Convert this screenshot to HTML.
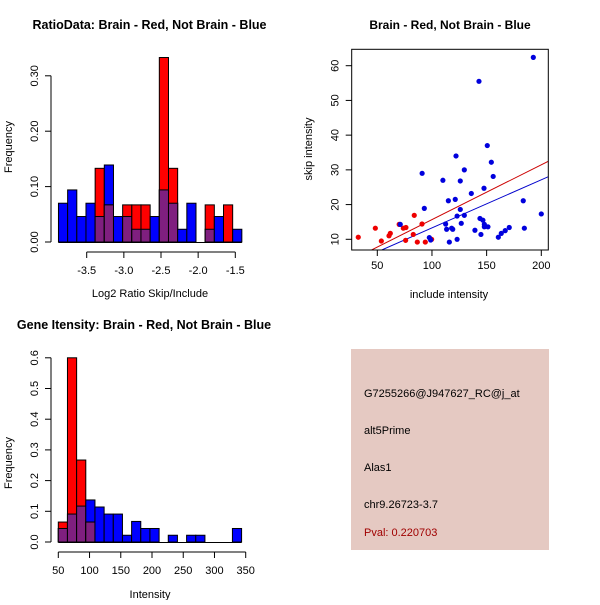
<!DOCTYPE html>
<html><head><meta charset="utf-8"><style>
body{margin:0;background:#fff}
svg text{font-family:"Liberation Sans",sans-serif;fill:#000}
</style></head><body>
<svg id="c" width="600" height="600" xmlns="http://www.w3.org/2000/svg">
<rect width="600" height="600" fill="#fff"/>
<g id="p1"></g>
<g id="p2"></g>
<g id="p3"></g>
<g>
<rect x="351" y="349" width="198" height="201" fill="#e5c9c2"/>
<text x="364" y="397" font-size="11">G7255266@J947627_RC@j_at</text>
<text x="364" y="434" font-size="11">alt5Prime</text>
<text x="364" y="471" font-size="11">Alas1</text>
<text x="364" y="508" font-size="11">chr9.26723-3.7</text>
<text x="364" y="536" font-size="11" style="fill:#a00000">Pval: 0.220703</text>
</g>
</svg>
<script>
// ---- Plot 1 data ----
const ratioBinStart = -3.88;
const ratioBinWidth = 0.1234;
const ratioBlue = [0.070,0.094,0.046,0.070,0.046,0.139,0.046,0.046,0.023,0.023,0.046,0.094,0.070,0.023,0.070,0,0.023,0.046,0,0.023];
const ratioRed  = [0,0,0,0,0.133,0.067,0,0.067,0.067,0.067,0,0.333,0.133,0,0,0,0.067,0,0.067,0];
const ratioXTicks = [-3.5,-3.0,-2.5,-2.0,-1.5];
const ratioXLabels = ["-3.5","-3.0","-2.5","-2.0","-1.5"];
const ratioYTicks = [0,0.1,0.2,0.3];
const ratioYLabels = ["0.00","0.10","0.20","0.30"];
// ---- Plot 2 data ----
const redInclude = [32.6,48.2,53.7,60.7,61.9,70,73.8,76.2,75.9,82.9,83.8,86.6,90.9,93.9,99.7];
const redSkip    = [10.6,13.2,9.5,11,11.7,14.3,13.2,13.4,9.7,11.4,16.9,9.2,14.4,9.2,10];
const blueInclude = [71,91,93,97.6,98.8,110,112.5,113.4,115,115.9,118,119,121.3,122,123,123,125.9,125.9,126.8,129.6,129.6,136,139.3,143,143.9,144.8,146.6,147.6,147.9,147.9,150.6,151.2,154.3,156,160.7,163.4,167,170.7,183.5,184.5,192.7,200];
const blueSkip    = [14.3,29,18.9,10.5,9.8,27,14.4,12.9,21.1,9.2,13.2,12.9,21.5,34,16.7,10,26.8,18.6,14.6,30,16.9,23.2,12.6,55.5,16,11.4,15.5,24.7,14.3,13.6,37,13.6,32.2,28.1,10.6,11.7,12.5,13.4,21.1,13.2,62.4,17.3];
const redFit = [-0.14,0.158];   // intercept, slope
const blueFit = [-0.56,0.1385];
const scatXTicks = [50,100,150,200];
const scatYTicks = [10,20,30,40,50,60];
// ---- Plot 3 data ----
const intBinStart = 50;
const intBinWidth = 14.67;
const intBlue = [0.044,0.091,0.117,0.137,0.114,0.091,0.091,0.022,0.067,0.044,0.044,0,0.022,0,0.022,0.022,0,0,0,0.044];
const intRed  = [0.065,0.6,0.267,0.065,0,0,0,0,0,0,0,0,0,0,0,0,0,0,0,0];
const intXTicks = [50,100,150,200,250,300,350];
const intYTicks = [0,0.1,0.2,0.3,0.4,0.5,0.6];
const intYLabels = ["0.0","0.1","0.2","0.3","0.4","0.5","0.6"];

const NS="http://www.w3.org/2000/svg";
function mk(g,tag,attrs,text){const e=document.createElementNS(NS,tag);for(const k in attrs)e.setAttribute(k,attrs[k]);if(text!==undefined)e.textContent=text;g.appendChild(e);return e;}

function hist(g,o){
  const xs=v=>o.x0+(v-o.v0)*o.kx, ys=v=>o.y0-v*o.ky;
  const n=o.blue.length;
  for(let i=0;i<n;i++){
    const l=xs(o.start+i*o.w), r=xs(o.start+(i+1)*o.w);
    const b=o.blue[i], rd=o.red[i], m=Math.min(b,rd);
    if(b>0){const e=mk(g,'rect',{x:l,y:ys(b),width:r-l,height:ys(0)-ys(b),fill:'#0000ff',stroke:'#000','stroke-width':1});
      
      }
    if(rd>0){const e=mk(g,'rect',{x:l,y:ys(rd),width:r-l,height:ys(0)-ys(rd),fill:'#ff0000',stroke:'#000','stroke-width':1});
      
      }
    if(m>0){const e=mk(g,'rect',{x:l,y:ys(m),width:r-l,height:ys(0)-ys(m),fill:'#7f1f7f',stroke:'#000','stroke-width':1});
      
      }
  }
  const xe=xs(o.start+n*o.w), xb=xs(o.start);
  mk(g,'line',{x1:xb,x2:xe,y1:ys(0)+0.5,y2:ys(0)+0.5,stroke:'#000'});
  const xa=o.y0+10;
  mk(g,'line',{x1:xs(o.xt[0]),x2:xs(o.xt[o.xt.length-1]),y1:xa,y2:xa,stroke:'#000'});
  o.xt.forEach((t,i)=>{mk(g,'line',{x1:xs(t),x2:xs(t),y1:xa,y2:xa+6,stroke:'#000'});
    const e=mk(g,'text',{x:xs(t),y:xa+22,'font-size':11,'text-anchor':'middle'},o.xl[i]);
    
    });
  const yaX=51;
  mk(g,'line',{x1:yaX,x2:yaX,y1:ys(o.yt[0]),y2:ys(o.yt[o.yt.length-1]),stroke:'#000'});
  o.yt.forEach((t,i)=>{mk(g,'line',{x1:yaX-6,x2:yaX,y1:ys(t),y2:ys(t),stroke:'#000'});
    const e=mk(g,'text',{x:0,y:0,'font-size':11,'text-anchor':'middle',transform:`translate(${yaX-13},${ys(t)}) rotate(-90)`},o.yl[i]);
    
    });
}

const p1=document.getElementById('p1');
hist(p1,{x0:86.7,v0:-3.5,kx:74.3,y0:242,ky:554,start:ratioBinStart,w:ratioBinWidth,blue:ratioBlue,red:ratioRed,xt:ratioXTicks,xl:ratioXLabels,yt:ratioYTicks,yl:ratioYLabels});
mk(p1,'text',{x:149.5,y:29,'font-size':12.5,'font-weight':'bold','text-anchor':'middle',},'RatioData: Brain - Red, Not Brain - Blue');
mk(p1,'text',{x:150,y:297,'font-size':11,'text-anchor':'middle',},'Log2 Ratio Skip/Include');
mk(p1,'text',{x:0,y:0,'font-size':11,'text-anchor':'middle',transform:'translate(12,147) rotate(-90)',},'Frequency');

const p3=document.getElementById('p3');
hist(p3,{x0:58.3,v0:50,kx:0.6247,y0:542,ky:307,start:intBinStart,w:intBinWidth,blue:intBlue,red:intRed,xt:intXTicks,xl:intXTicks.map(String),yt:intYTicks,yl:intYLabels});
mk(p3,'text',{x:144,y:329,'font-size':12.5,'font-weight':'bold','text-anchor':'middle',},'Gene Itensity: Brain - Red, Not Brain - Blue');
mk(p3,'text',{x:150,y:598,'font-size':11,'text-anchor':'middle',},'Intensity');
mk(p3,'text',{x:0,y:0,'font-size':11,'text-anchor':'middle',transform:'translate(12,463) rotate(-90)',},'Frequency');

const p2=document.getElementById('p2');
const L=351.7,R=548.3,T=49.3,B=250;
const sx=v=>377.3+(v-50)*1.0933, sy=v=>239.3-(v-10)*3.472;
const cp=mk(p2,'clipPath',{id:'clp'});mk(cp,'rect',{x:L,y:T,width:R-L,height:B-T});
[[redFit,'#cc0000'],[blueFit,'#0000cc']].forEach(([f,c])=>{
  const xa=0,xb=250;
  const e=mk(p2,'line',{x1:sx(xa),y1:sy(f[0]+f[1]*xa),x2:sx(xb),y2:sy(f[0]+f[1]*xb),stroke:c,'stroke-width':1,'clip-path':'url(#clp)'});
  
  
});
redInclude.forEach((v,i)=>{const e=mk(p2,'circle',{cx:sx(v),cy:sy(redSkip[i]),r:2.6,fill:'#ee0000'});
  
  });
blueInclude.forEach((v,i)=>{const e=mk(p2,'circle',{cx:sx(v),cy:sy(blueSkip[i]),r:2.6,fill:'#0000dd'});
  
  });
mk(p2,'rect',{x:L,y:T,width:R-L,height:B-T,fill:'none',stroke:'#000'});
scatXTicks.forEach(t=>{mk(p2,'line',{x1:sx(t),x2:sx(t),y1:B,y2:B+6,stroke:'#000'});
  const e=mk(p2,'text',{x:sx(t),y:B+19,'font-size':11,'text-anchor':'middle'},String(t));
  
  });
scatYTicks.forEach(t=>{mk(p2,'line',{x1:L-6,x2:L,y1:sy(t),y2:sy(t),stroke:'#000'});
  const e=mk(p2,'text',{x:0,y:0,'font-size':11,'text-anchor':'middle',transform:`translate(${L-13},${sy(t)}) rotate(-90)`},String(t));
  
  });
mk(p2,'text',{x:450,y:29,'font-size':12,'font-weight':'bold','text-anchor':'middle',},'Brain - Red, Not Brain - Blue');
mk(p2,'text',{x:449,y:298,'font-size':11,'text-anchor':'middle',},'include intensity');
mk(p2,'text',{x:0,y:0,'font-size':11,'text-anchor':'middle',transform:'translate(312,149) rotate(-90)',},'skip intensity');
</script>
</body></html>
